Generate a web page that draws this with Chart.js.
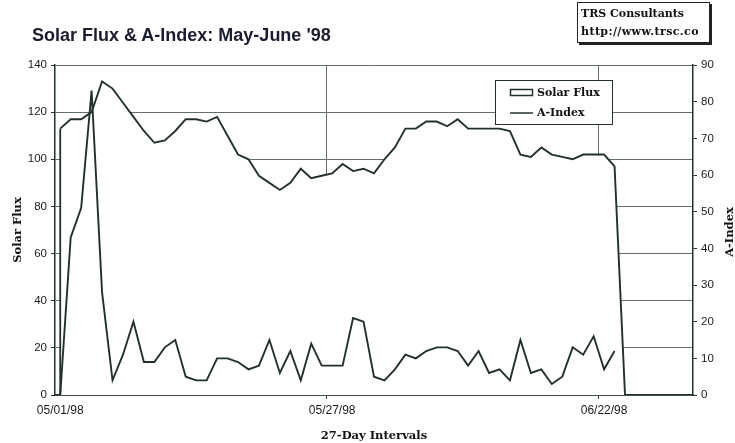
<!DOCTYPE html>
<html>
<head>
<meta charset="utf-8">
<script src="https://cdn.jsdelivr.net/npm/chart.js@4.4.1/dist/chart.umd.min.js"></script>
<style>
  html, body { margin: 0; padding: 0; background: #fff; }
  #wrap { position: relative; width: 735px; height: 443px; }
  #title { position: absolute; left: 32px; top: 25px; line-height: 18px; font: bold 18px 'Liberation Sans', Arial, sans-serif; color: #1c1c30; white-space: nowrap; }
  #stamp { position: absolute; left: 577px; top: 2px; width: 133px; height: 41px; box-sizing: border-box; border: 1px solid #222; box-shadow: 2px 2px 0 #222; padding: 2px 0 0 3px; font: bold 11px 'DejaVu Serif', serif; line-height: 18px; color: #111; overflow: hidden; white-space: nowrap; background: #fff; }
  #stamp .url { letter-spacing: 0.4px; }
</style>
</head>
<body>
<div id="wrap">
  <canvas id="fluxChart" width="735" height="443"></canvas>
  <div id="title">Solar Flux &amp; A-Index: May-June '98</div>
  <div id="stamp">TRS Consultants<br><span class="url">http://www.trsc.co</span></div>
</div>
<script>
// daily categories, May 1 - June 30 1998
const days = [
  '05/01/98','05/02/98','05/03/98','05/04/98','05/05/98','05/06/98','05/07/98','05/08/98','05/09/98','05/10/98',
  '05/11/98','05/12/98','05/13/98','05/14/98','05/15/98','05/16/98','05/17/98','05/18/98','05/19/98','05/20/98',
  '05/21/98','05/22/98','05/23/98','05/24/98','05/25/98','05/26/98','05/27/98','05/28/98','05/29/98','05/30/98',
  '05/31/98','06/01/98','06/02/98','06/03/98','06/04/98','06/05/98','06/06/98','06/07/98','06/08/98','06/09/98',
  '06/10/98','06/11/98','06/12/98','06/13/98','06/14/98','06/15/98','06/16/98','06/17/98','06/18/98','06/19/98',
  '06/20/98','06/21/98','06/22/98','06/23/98','06/24/98','06/25/98','06/26/98','06/27/98','06/28/98','06/29/98',
  '06/30/98'
];
const tickLabels = ['05/01/98', '05/27/98', '06/22/98'];

// solar flux (left axis), blank days plotted as 0 like the original
const solarFlux = [
  113, 117, 117, 120, 133, 130, 124, 118, 112, 107,
  108, 112, 117, 117, 116, 118, 110, 102, 100, 93,
  90, 87, 90, 96, 92, 93, 94, 98, 95, 96,
  94, 100, 105, 113, 113, 116, 116, 114, 117, 113,
  113, 113, 113, 112, 102, 101, 105, 102, 101, 100,
  102, 102, 102, 97, 0, 0, 0, 0, 0, 0,
  0
];

// A-Index (right axis)
const aIndex = [
  0, 43, 51, 83, 28, 4, 11, 20, 9, 9,
  13, 15, 5, 4, 4, 10, 10, 9, 7, 8,
  15, 6, 12, 4, 14, 8, 8, 8, 21, 20,
  5, 4, 7, 11, 10, 12, 13, 13, 12, 8,
  12, 6, 7, 4, 15, 6, 7, 3, 5, 13,
  11, 16, 7, 12, null, null, null, null, null, null,
  null
];

const ink = '#22322a';
const gridInk = '#627064';
const tickFont = { family: 'Liberation Sans', size: 11.5 };
const labelFont = { family: 'DejaVu Serif', size: 11.5, weight: 'bold' };

// excel draws the left side of the area down to the axis
const areaEdge = {
  id: 'areaEdge',
  afterDatasetDraw(chart, args) {
    if (args.index !== 0) return;
    const p = args.meta.data[0];
    const y0 = chart.scales.y.getPixelForValue(0);
    const ctx = chart.ctx;
    ctx.save();
    ctx.strokeStyle = ink;
    ctx.lineWidth = 1.8;
    ctx.beginPath();
    ctx.moveTo(p.x, y0);
    ctx.lineTo(p.x, p.y);
    ctx.stroke();
    ctx.restore();
  }
};

// boxed legend inside the plot + right axis title (reads bottom-up)
const extras = {
  id: 'extras',
  afterDraw(chart) {
    const ctx = chart.ctx;
    const ds = chart.data.datasets;
    ctx.save();
    ctx.fillStyle = '#fff';
    ctx.strokeStyle = ink;
    ctx.lineWidth = 1;
    ctx.fillRect(495.5, 80.5, 117, 44);
    ctx.strokeRect(495.5, 80.5, 117, 44);

    ctx.font = 'bold 11px "DejaVu Serif"';
    ctx.fillStyle = '#111';
    ctx.textBaseline = 'middle';
    ctx.lineWidth = 1.5;
    ctx.strokeRect(510.5, 89.5, 22, 6);
    ctx.fillText(ds[0].label, 537, 93);
    ctx.beginPath();
    ctx.moveTo(510, 113);
    ctx.lineTo(533, 113);
    ctx.stroke();
    ctx.fillText(ds[1].label, 537, 113);

    ctx.font = 'bold 11.5px "DejaVu Serif"';
    ctx.translate(730, (chart.chartArea.top + chart.chartArea.bottom) / 2 + 2);
    ctx.rotate(-Math.PI / 2);
    ctx.textAlign = 'center';
    ctx.fillText('A-Index', 0, 0);
    ctx.restore();
  }
};

const showTick = (c) => c.index > 0 && tickLabels.includes(days[c.index]);

new Chart(document.getElementById('fluxChart'), {
  type: 'line',
  data: {
    labels: days,
    datasets: [
      {
        label: 'Solar Flux',
        data: solarFlux,
        yAxisID: 'y',
        borderColor: ink,
        borderWidth: 1.9,
        backgroundColor: '#ffffff',
        fill: 'origin',
        pointRadius: 0,
        tension: 0,
        order: 2
      },
      {
        label: 'A-Index',
        data: aIndex,
        yAxisID: 'y1',
        borderColor: ink,
        borderWidth: 1.9,
        fill: false,
        pointRadius: 0,
        tension: 0,
        order: 1
      }
    ]
  },
  options: {
    responsive: false,
    animation: false,
    layout: { padding: { top: 65 } },
    plugins: { legend: { display: false }, tooltip: { enabled: false } },
    scales: {
      x: {
        offset: true,
        grid: {
          offset: true,
          lineWidth: 1,
          tickLength: 4,
          color: c => showTick(c) ? gridInk : 'rgba(0,0,0,0)',
          tickColor: c => showTick(c) ? ink : 'rgba(0,0,0,0)'
        },
        border: { color: ink, width: 1.5 },
        ticks: {
          autoSkip: false,
          maxRotation: 0,
          padding: 4,
          font: { family: 'Liberation Sans', size: 12 },
          color: '#1a1a1a',
          callback(value) {
            const l = this.getLabelForValue(value);
            return tickLabels.includes(l) ? l : '';
          }
        },
        title: { display: true, text: '27-Day Intervals', font: labelFont, color: '#111', padding: { top: 0, bottom: 0 } },
        afterFit(s) { s.height = 48; }
      },
      y: {
        position: 'left',
        min: 0,
        max: 140,
        ticks: { stepSize: 20, padding: 4, font: tickFont, color: '#1a1a1a' },
        grid: { color: gridInk, lineWidth: 1, tickLength: 4, tickColor: ink },
        border: { color: ink, width: 1.5 },
        title: { display: true, text: 'Solar Flux', font: labelFont, color: '#111', padding: { top: 11, bottom: 0 } },
        afterFit(s) { s.width = 55; }
      },
      y1: {
        position: 'right',
        min: 0,
        max: 90,
        ticks: { stepSize: 10, padding: 4, font: tickFont, color: '#1a1a1a' },
        grid: { drawOnChartArea: false, tickLength: 4, color: ink },
        border: { color: ink, width: 1.5 },
        afterFit(s) { s.width = 42; }
      }
    }
  },
  plugins: [areaEdge, extras]
});
</script>
</body>
</html>
